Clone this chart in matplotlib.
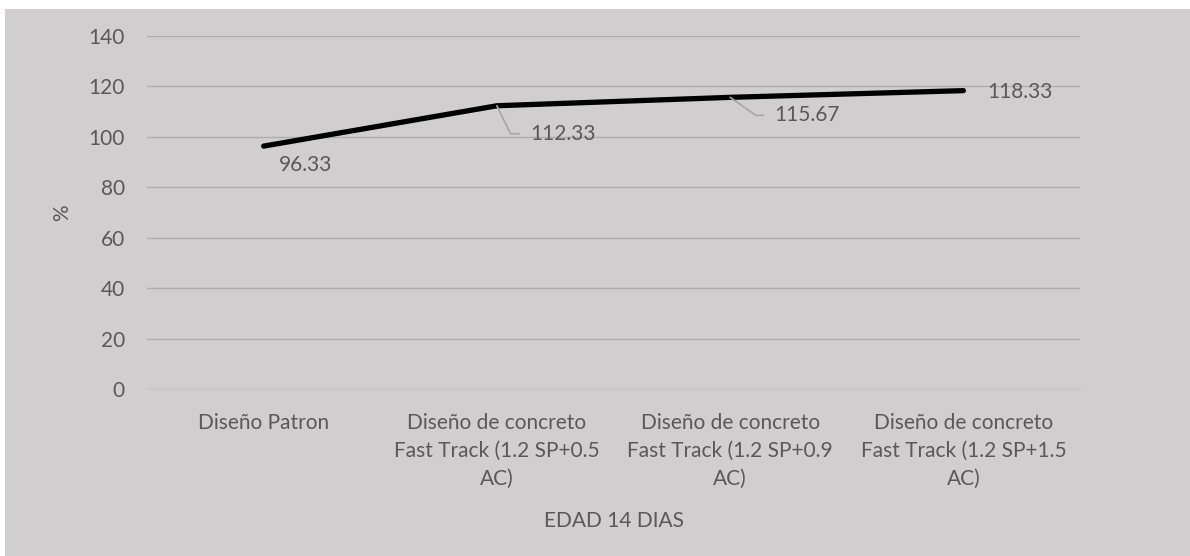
import matplotlib
matplotlib.use("Agg")
import matplotlib.pyplot as plt
from matplotlib.patches import Rectangle

categories = [
    "Diseño Patron",
    "Diseño de concreto\nFast Track (1.2 SP+0.5\nAC)",
    "Diseño de concreto\nFast Track (1.2 SP+0.9\nAC)",
    "Diseño de concreto\nFast Track (1.2 SP+1.5\nAC)",
]
values = [96.33, 112.33, 115.67, 118.33]
labels = ["96.33", "112.33", "115.67", "118.33"]
yticks = [0, 20, 40, 60, 80, 100, 120, 140]
xlabel = "EDAD 14 DIAS"
ylabel = "%"

BG = "#d0cece"
GRID = "#afadad"
TXT = "#595959"
LEAD = "#a6a6a6"
FS = 15

plt.rcParams['font.family'] = ['Lato', 'DejaVu Sans']

fig = plt.figure(figsize=(11.9, 5.56), dpi=100)
fig.patch.set_facecolor("white")
fig.patches.append(Rectangle((5/1190, 0), 1 - 5/1190, 1 - 9/556,
                             transform=fig.transFigure, facecolor=BG,
                             edgecolor="none", zorder=-10))

ax = fig.add_axes([147/1190, 1 - 389/556, (1080 - 147)/1190, (389 - 36)/556])
ax.set_facecolor(BG)
ax.patch.set_alpha(0)

x = list(range(len(categories)))
ax.plot(x, values, color="black", linewidth=3.8, solid_capstyle="round",
        solid_joinstyle="round", zorder=3)

ax.set_xlim(-0.5, len(categories) - 0.5)
ax.set_ylim(0, 140)
ax.set_yticks(yticks)
ax.set_xticks(x)
ax.set_xticklabels(categories, linespacing=1.52)
ax.grid(axis="y", color=GRID, linewidth=1.0)
ax.set_axisbelow(True)
for s in ax.spines.values():
    s.set_visible(False)
ax.spines["bottom"].set_visible(True)
ax.spines["bottom"].set_color("#c9c7c7")
ax.tick_params(axis="both", length=0, colors=TXT, labelsize=FS)
ax.tick_params(axis="x", pad=17)
ax.tick_params(axis="y", pad=16)

ax.set_xlabel(xlabel, color=TXT, fontsize=FS, labelpad=16)
ax.set_ylabel(ylabel, color=TXT, fontsize=FS, labelpad=12)

px = 0.72  # px -> points
# (dx, dy) offsets of label centres in pixels
offsets = [(42, -19), (66, -28), (77, -18), (57, -1)]
leaders = [None, -64, -35, None]
for i, (v, lab) in enumerate(zip(values, labels)):
    dx, dy = offsets[i]
    if leaders[i] is None:
        ax.annotate(lab, xy=(i, v), xytext=(dx * px, dy * px),
                    textcoords="offset points", ha="center", va="center",
                    color=TXT, fontsize=FS, zorder=4)
    else:
        ax.annotate(lab, xy=(i, v), xytext=(dx * px, dy * px),
                    textcoords="offset points", ha="center", va="center",
                    color=TXT, fontsize=FS, zorder=4,
                    arrowprops=dict(arrowstyle="-", color=LEAD, lw=1.2,
                                    relpos=(0, 0.5), shrinkA=6, shrinkB=0,
                                    connectionstyle=f"angle,angleA=180,angleB={leaders[i]},rad=0"))

fig.savefig("out.png", dpi=100, facecolor=fig.get_facecolor())
